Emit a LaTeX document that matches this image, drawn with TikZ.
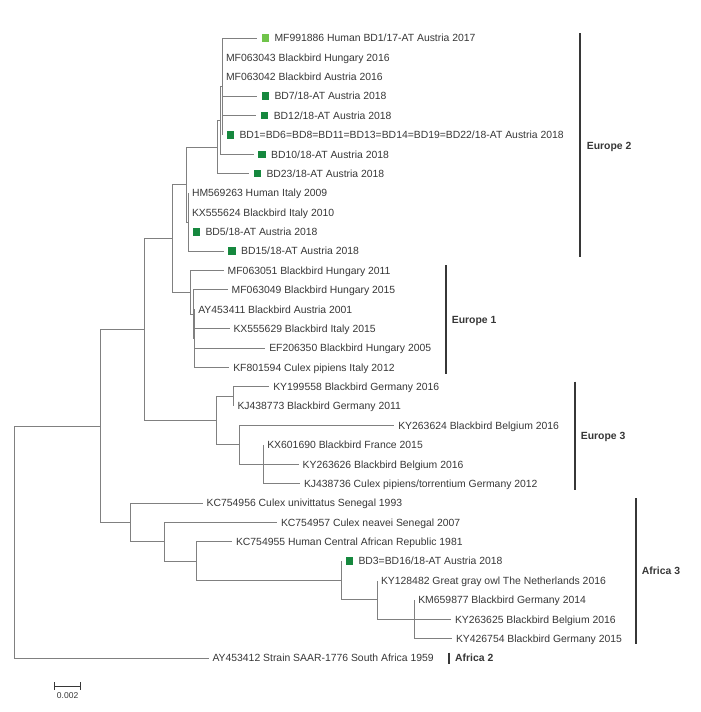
\documentclass[tikz,border=0pt]{standalone}
\usepackage{fontspec}
\setmainfont{Liberation Sans}
\usepackage{xcolor}
\definecolor{branch}{RGB}{128,128,128}
\definecolor{ink}{RGB}{55,55,55}
\definecolor{bdgreen}{RGB}{22,136,62}
\definecolor{humgreen}{RGB}{112,196,74}
\usepackage{tikz}
\usetikzlibrary{arrows.meta,positioning}

\begin{document}
\begin{tikzpicture}[
    x=1pt, y=-1pt,
    br/.style={draw=branch, line width=0.95pt},
    lab/.style={anchor=west, inner sep=0pt, outer xsep=4pt, text height=7.5pt, text depth=0pt, text=ink, font=\fontsize{10.4}{12}\selectfont},
    tag/.style={lab, outer xsep=1pt},
    sq/.style={anchor=west, fill=bdgreen, minimum size=7.5pt, inner sep=0pt, outer xsep=4.5pt},
    clade/.style={anchor=west, inner sep=0pt, text height=7.5pt, text depth=0pt, text=ink, font=\bfseries\fontsize{10.4}{12}\selectfont},
    bar/.style={draw=ink, line width=2pt}
]
\useasboundingbox (0,0) rectangle (701,712);

% Europe 2
\node[sq, fill=humgreen] (s1) at (257,38.0) {};
\node[tag, right=0pt of s1] (t1) {MF991886 Human BD1/17-AT Austria 2017};
\node[lab] (t2) at (222,57.4) {MF063043 Blackbird Hungary 2016};
\node[lab] (t3) at (222,76.8) {MF063042 Blackbird Austria 2016};
\node[sq] (s4) at (257,96.1) {};
\node[tag, right=0pt of s4] (t4) {BD7/18-AT Austria 2018};
\node[sq] (s5) at (256.3,115.5) {};
\node[tag, right=0pt of s5] (t5) {BD12/18-AT Austria 2018};
\node[sq] (s6) at (222,134.9) {};
\node[tag, right=0pt of s6] (t6) {BD1=BD6=BD8=BD11=BD13=BD14=BD19=BD22/18-AT Austria 2018};
\node[sq] (s7) at (253.7,154.3) {};
\node[tag, right=0pt of s7] (t7) {BD10/18-AT Austria 2018};
\node[sq] (s8) at (249,173.6) {};
\node[tag, right=0pt of s8] (t8) {BD23/18-AT Austria 2018};
\node[lab] (t9) at (188,193.0) {HM569263 Human Italy 2009};
\node[lab] (t10) at (188,212.4) {KX555624 Blackbird Italy 2010};
\node[sq] (s11) at (188,231.8) {};
\node[tag, right=0pt of s11] (t11) {BD5/18-AT Austria 2018};
\node[sq] (s12) at (223.7,251.1) {};
\node[tag, right=0pt of s12] (t12) {BD15/18-AT Austria 2018};

% Europe 1
\node[lab] (t13) at (223.7,270.5) {MF063051 Blackbird Hungary 2011};
\node[lab] (t14) at (227.7,289.9) {MF063049 Blackbird Hungary 2015};
\node[lab] (t15) at (194.3,309.3) {AY453411 Blackbird Austria 2001};
\node[lab] (t16) at (229.5,328.6) {KX555629 Blackbird Italy 2015};
\node[lab] (t17) at (265.3,348.0) {EF206350 Blackbird Hungary 2005};
\node[lab] (t18) at (229.3,367.4) {KF801594 Culex pipiens Italy 2012};

% Europe 3
\node[lab] (t19) at (269.3,386.8) {KY199558 Blackbird Germany 2016};
\node[lab] (t20) at (233.5,406.1) {KJ438773 Blackbird Germany 2011};
\node[lab] (t21) at (394.3,425.5) {KY263624 Blackbird Belgium 2016};
\node[lab] (t22) at (263.3,444.9) {KX601690 Blackbird France 2015};
\node[lab] (t23) at (298.7,464.3) {KY263626 Blackbird Belgium 2016};
\node[lab] (t24) at (300,483.6) {KJ438736 Culex pipiens/torrentium Germany 2012};

% Africa
\node[lab] (t25) at (202.7,503.0) {KC754956 Culex univittatus Senegal 1993};
\node[lab] (t26) at (277,522.4) {KC754957 Culex neavei Senegal 2007};
\node[lab] (t27) at (232,541.8) {KC754955 Human Central African Republic 1981};
\node[sq] (s28) at (341,561.1) {};
\node[tag, right=0pt of s28] (t28) {BD3=BD16/18-AT Austria 2018};
\node[lab] (t29) at (377,580.5) {KY128482 Great gray owl The Netherlands 2016};
\node[lab] (t30) at (414.3,599.9) {KM659877 Blackbird Germany 2014};
\node[lab] (t31) at (451,619.3) {KY263625 Blackbird Belgium 2016};
\node[lab] (t32) at (452,638.6) {KY426754 Blackbird Germany 2015};
\node[lab] (t33) at (208.5,658.0) {AY453412 Strain SAAR-1776 South Africa 1959};

% inner nodes
\coordinate (nA) at (222,86.5);
\coordinate (nB) at (220,120.4);
\coordinate (nC) at (217.7,147.0);
\coordinate (nDb) at (188,222.1);
\coordinate (nD) at (186.5,184.5);
\coordinate (nIb) at (194.3,338.3);
\coordinate (nI) at (193.3,314.1);
\coordinate (nH) at (190.7,292.3);
\coordinate (nE) at (172,238.4);
\coordinate (nK) at (233.5,396.4);
\coordinate (nM) at (263.3,464.3);
\coordinate (nL) at (239,444.9);
\coordinate (nJ) at (216.7,420.7);
\coordinate (nF) at (144.3,329.5);
\coordinate (nS) at (414.3,619.3);
\coordinate (nR) at (377,599.9);
\coordinate (nQ) at (341,580.5);
\coordinate (nP) at (196.7,561.1);
\coordinate (nO) at (164.3,541.8);
\coordinate (nN) at (130,522.4);
\coordinate (nG) at (100,426.0);
\coordinate (root) at (14,542.0);

\draw[br] (nA) |- (s1.west) (nA) |- (t2.west) (nA) |- (t3.west) (nA) |- (s4.west) (nA) |- (s5.west) (nA) |- (s6.west);
\draw[br] (nB) |- (nA) (nB) |- (s7.west);
\draw[br] (nC) |- (nB) (nC) |- (s8.west);
\draw[br] (nDb) |- (t9.west) (nDb) |- (t10.west) (nDb) |- (s11.west) (nDb) |- (s12.west);
\draw[br] (nD) |- (nC) (nD) |- (nDb);
\draw[br] (nIb) |- (t15.west) (nIb) |- (t16.west) (nIb) |- (t17.west) (nIb) |- (t18.west);
\draw[br] (nI) |- (t14.west) (nI) |- (nIb);
\draw[br] (nH) |- (t13.west) (nH) |- (nI);
\draw[br] (nE) |- (nD) (nE) |- (nH);
\draw[br] (nK) |- (t19.west) (nK) |- (t20.west);
\draw[br] (nM) |- (t22.west) (nM) |- (t23.west) (nM) |- (t24.west);
\draw[br] (nL) |- (t21.west) (nL) |- (nM);
\draw[br] (nJ) |- (nK) (nJ) |- (nL);
\draw[br] (nF) |- (nE) (nF) |- (nJ);
\draw[br] (nS) |- (t30.west) (nS) |- (t31.west) (nS) |- (t32.west);
\draw[br] (nR) |- (t29.west) (nR) |- (nS);
\draw[br] (nQ) |- (s28.west) (nQ) |- (nR);
\draw[br] (nP) |- (t27.west) (nP) |- (nQ);
\draw[br] (nO) |- (t26.west) (nO) |- (nP);
\draw[br] (nN) |- (t25.west) (nN) |- (nO);
\draw[br] (nG) |- (nF) (nG) |- (nN);
\draw[br] (root) |- (nG) (root) |- (t33.west);

% clades
\draw[bar] (580,33) -- (580,257);
\node[clade] (eu2) at (586.7,145.7) {Europe 2};
\draw[bar] (446,265) -- (446,374);
\node[clade] (eu1) at (451.7,319.3) {Europe 1};
\draw[bar] (575,381.7) -- (575,490);
\node[clade] (eu3) at (580.7,435.7) {Europe 3};
\draw[bar] (636,498) -- (636,644);
\node[clade] (af3) at (641.7,570.7) {Africa 3};
\draw[bar] (449.3,652.5) -- (449.3,663.5);
\node[clade] (af2) at (455,658.0) {Africa 2};

% scale
\coordinate (sb1) at (54.3,686);
\coordinate (sb2) at (81,686);
\draw[draw=ink, line width=1pt, {Bar[width=7.5pt]}-{Bar[width=7.5pt]}] (sb1) -- (sb2);
\node[inner sep=0pt, text=ink, font=\fontsize{8.5}{10}\selectfont] (sblab) at (67.6,696) {0.002};
\end{tikzpicture}
\end{document}
